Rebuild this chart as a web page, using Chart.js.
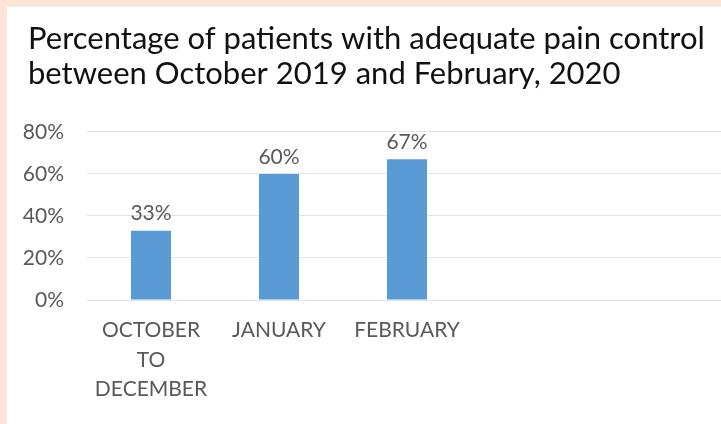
<!DOCTYPE html>
<html>
<head>
<meta charset="utf-8">
<script src="https://cdn.jsdelivr.net/npm/chart.js@4/dist/chart.umd.min.js"></script>
<style>
  html, body { margin: 0; padding: 0; background: #fce5d6; width: 721px; height: 424px; overflow: hidden; }
  #wrap { position: absolute; left: 7px; top: 7px; width: 714px; height: 417px; background: #ffffff; overflow: hidden; }
  canvas { display: block; }
</style>
</head>
<body>
<div id="wrap"><canvas id="c" width="720" height="417"></canvas></div>
<script>
// Quarterly pain-control audit: share of patients with adequate control
const titleLines = ['Percentage of patients with adequate pain control', 'between October 2019 and February, 2020'];
const categories = [['OCTOBER', 'TO', 'DECEMBER'], 'JANUARY', 'FEBRUARY', '', ''];
const adequateControl = [33, 60, 67, null, null];
const yTicks = [0, 20, 40, 60, 80];

const FONT = 'Lato';
const GREY = '#595959';
const TITLE_LEFT = 21;

// Writes the percentage above each bar
const barValueLabels = {
  id: 'barValueLabels',
  afterDatasetsDraw(chart) {
    const ctx = chart.ctx;
    const meta = chart.getDatasetMeta(0);
    ctx.save();
    ctx.font = `21px ${FONT}`;
    ctx.fillStyle = GREY;
    ctx.textAlign = 'center';
    ctx.textBaseline = 'middle';
    meta.data.forEach((bar, i) => {
      const v = chart.data.datasets[0].data[i];
      if (v == null) return;
      ctx.fillText(v + '%', bar.x, bar.y - 17);
    });
    ctx.restore();
  }
};

// Lets the title start a little right of the axis labels
const titleIndent = {
  id: 'titleIndent',
  afterLayout(chart) {
    if (chart.titleBlock) chart.titleBlock.left = TITLE_LEFT;
  }
};

new Chart(document.getElementById('c'), {
  type: 'bar',
  data: {
    labels: categories,
    datasets: [{
      data: adequateControl,
      backgroundColor: '#5b9bd5',
      borderWidth: 0,
      barPercentage: 1,
      categoryPercentage: 0.3125
    }]
  },
  options: {
    responsive: false,
    animation: false,
    devicePixelRatio: 1,
    layout: { padding: { left: 10, right: 0, top: 0, bottom: 0 } },
    plugins: {
      legend: { display: false },
      tooltip: { enabled: false },
      title: {
        display: true,
        text: titleLines,
        align: 'start',
        color: '#111111',
        font: { family: FONT, size: 31, weight: 'normal', lineHeight: 1.145 },
        padding: { top: 14, bottom: 40 }
      }
    },
    scales: {
      x: {
        grid: { display: false, drawTicks: false },
        border: { display: false },
        ticks: {
          color: GREY,
          font: { family: FONT, size: 21, lineHeight: 1.4 },
          padding: 16,
          maxRotation: 0,
          autoSkip: false
        },
        afterFit(scale) { scale.height = 124; }
      },
      y: {
        min: 0,
        max: 80,
        afterBuildTicks(scale) { scale.ticks = yTicks.map(v => ({ value: v })); },
        grid: { color: '#e3e3e3', lineWidth: 1, drawTicks: false },
        border: { display: false },
        ticks: {
          color: GREY,
          font: { family: FONT, size: 21 },
          padding: 23,
          callback: v => v + '%'
        },
        afterFit(scale) { scale.width = 70; }
      }
    }
  },
  plugins: [barValueLabels, titleIndent]
});
</script>
</body>
</html>
